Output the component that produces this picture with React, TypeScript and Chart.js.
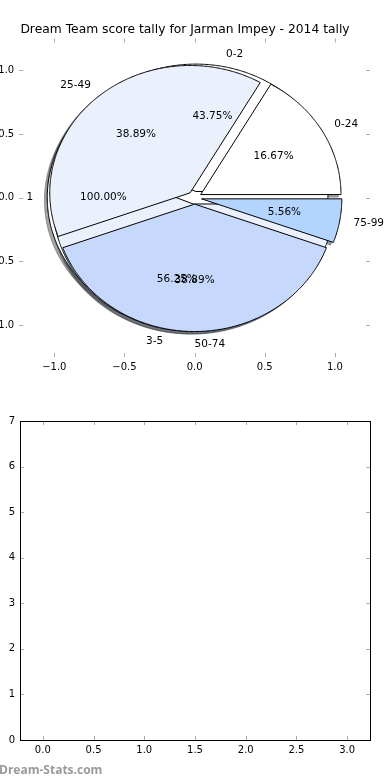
import React, { useEffect, useRef } from "react";
import { Chart, registerables } from "chart.js";

Chart.register(...registerables);

const TITLE = "Dream Team score tally for Jarman Impey - 2014 tally";
const WATERMARK = "Dream-Stats.com";

// three pies drawn on top of each other in the same axes
const pie1Labels = ["1"];
const pie1Values = [1];
const pie2Labels = ["0-2", "3-5"];
const pie2Values = [7, 9];
const pie3Labels = ["0-24", "25-49", "50-74", "75-99"];
const pie3Values = [3, 7, 7, 1];
const pieColors = ["#ffffff", "#eaf1fd", "#c6d9fd", "#b3d4fe"];

const pieTicks = [-1.0, -0.5, 0.0, 0.5, 1.0];
const barXTicks = [0.0, 0.5, 1.0, 1.5, 2.0, 2.5, 3.0];
const barYTicks = [0, 1, 2, 3, 4, 5, 6, 7];

const EXPLODE = 0.05;
const FONT = "'DejaVu Sans', sans-serif";

const fmt1 = (v: number) => (v < 0 ? "\u2212" : "") + Math.abs(v).toFixed(1);
const fmt0 = (v: number) => String(Math.round(v));

function hexToRgb(h: string) {
  const n = parseInt(h.slice(1), 16);
  return [(n >> 16) & 255, (n >> 8) & 255, n & 255];
}

const piePlugin = {
  id: "overlapPies",
  afterDatasetsDraw(chart: any) {
    const ctx = chart.ctx as CanvasRenderingContext2D;
    const xs = chart.scales.x;
    const ys = chart.scales.y;
    const px = (x: number) => xs.getPixelForValue(x);
    const py = (y: number) => ys.getPixelForValue(y);
    const pies = [
      { labels: pie1Labels, values: pie1Values },
      { labels: pie2Labels, values: pie2Values },
      { labels: pie3Labels, values: pie3Values },
    ];
    const wedges: any[] = [];
    const texts: any[] = [];
    pies.forEach((p) => {
      const total = p.values.reduce((a, b) => a + b, 0);
      let t1 = 0;
      p.values.forEach((v, i) => {
        const frac = v / total;
        const t2 = t1 + frac * 360;
        const mid = ((t1 + t2) / 2) * Math.PI / 180;
        const cx = EXPLODE * Math.cos(mid);
        const cy = EXPLODE * Math.sin(mid);
        wedges.push({ cx, cy, t1, t2, color: pieColors[i % pieColors.length] });
        const xt = cx + 1.1 * Math.cos(mid);
        const yt = cy + 1.1 * Math.sin(mid);
        texts.push({ x: xt, y: yt, text: p.labels[i], align: xt > -1e-9 ? "left" : "right" });
        texts.push({
          x: cx + 0.6 * Math.cos(mid),
          y: cy + 0.6 * Math.sin(mid),
          text: (frac * 100).toFixed(2) + "%",
          align: "center",
        });
        t1 = t2;
      });
    });
    const path = (w: any, ox: number, oy: number) => {
      ctx.beginPath();
      const span = w.t2 - w.t1;
      const full = span >= 359.999;
      if (!full) ctx.moveTo(px(w.cx + ox), py(w.cy + oy));
      const n = Math.max(2, Math.ceil(span / 0.5));
      for (let k = 0; k <= n; k++) {
        const a = (w.t1 + (span * k) / n) * Math.PI / 180;
        const X = px(w.cx + ox + Math.cos(a));
        const Y = py(w.cy + oy + Math.sin(a));
        if (k === 0 && full) ctx.moveTo(X, Y);
        else ctx.lineTo(X, Y);
      }
      ctx.closePath();
    };
    ctx.save();
    ctx.lineJoin = "miter";
    // shadows
    wedges.forEach((w) => {
      const [r, g, b] = hexToRgb(w.color);
      const c = `rgba(${Math.round(r * 0.3)},${Math.round(g * 0.3)},${Math.round(b * 0.3)},0.5)`;
      path(w, -0.02, -0.02);
      ctx.fillStyle = c;
      ctx.fill();
      ctx.strokeStyle = c;
      ctx.lineWidth = 1;
      ctx.stroke();
    });
    // wedges
    wedges.forEach((w) => {
      path(w, 0, 0);
      ctx.fillStyle = w.color;
      ctx.fill();
      ctx.strokeStyle = "#000";
      ctx.lineWidth = 1;
      ctx.stroke();
    });
    // texts
    ctx.fillStyle = "#000";
    ctx.font = `10.5px ${FONT}`;
    ctx.textBaseline = "middle";
    texts.forEach((t) => {
      ctx.textAlign = t.align;
      ctx.fillText(t.text, px(t.x), py(t.y));
    });
    ctx.restore();
  },
};

const makeTickPlugin = (frame: boolean) => ({
  id: "innerTicks",
  afterDraw(chart: any) {
    const ctx = chart.ctx as CanvasRenderingContext2D;
    const a = chart.chartArea;
    const xs = chart.scales.x;
    const ys = chart.scales.y;
    const L = 4;
    ctx.save();
    ctx.strokeStyle = "#aaaaaa";
    ctx.lineWidth = 1;
    ctx.beginPath();
    xs.ticks.forEach((t: any) => {
      const x = Math.round(xs.getPixelForValue(t.value)) + 0.5;
      ctx.moveTo(x, a.top);
      ctx.lineTo(x, a.top + L);
      ctx.moveTo(x, a.bottom);
      ctx.lineTo(x, a.bottom - L);
    });
    ys.ticks.forEach((t: any) => {
      const y = Math.round(ys.getPixelForValue(t.value)) + 0.5;
      ctx.moveTo(a.left, y);
      ctx.lineTo(a.left + L, y);
      ctx.moveTo(a.right, y);
      ctx.lineTo(a.right - L, y);
    });
    ctx.stroke();
    if (frame) {
      ctx.strokeStyle = "#000";
      ctx.lineWidth = 1;
      ctx.strokeRect(
        Math.round(a.left) + 0.5,
        Math.round(a.top) + 0.5,
        Math.round(a.right - a.left),
        Math.round(a.bottom - a.top)
      );
    }
    ctx.restore();
  },
});

function axis(min: number, max: number, ticks: number[], fmt: (v: number) => string, isX: boolean, size: number) {
  return {
    type: "linear",
    min,
    max,
    afterBuildTicks: (s: any) => {
      s.ticks = ticks.map((v) => ({ value: v }));
    },
    afterFit: (s: any) => {
      if (isX) s.height = size;
      else s.width = size;
    },
    grid: { display: false, drawTicks: false },
    border: { display: false },
    ticks: {
      callback: (v: any) => fmt(Number(v)),
      font: { family: FONT, size: 10 },
      color: "#000",
      padding: isX ? 4 : 5,
      maxRotation: 0,
      autoSkip: false,
      includeBounds: false,
    },
  };
}

export default function App() {
  const topRef = useRef<HTMLCanvasElement>(null);
  const botRef = useRef<HTMLCanvasElement>(null);

  useEffect(() => {
    const top = new Chart(topRef.current as HTMLCanvasElement, {
      type: "scatter",
      data: { datasets: [{ data: [] }] },
      options: {
        responsive: false,
        animation: false,
        events: [],
        layout: { padding: { left: 0, right: 20, top: 0, bottom: 0 } },
        plugins: {
          legend: { display: false },
          tooltip: { enabled: false },
          title: {
            display: true,
            text: TITLE,
            color: "#000",
            font: { family: FONT, size: 12.3, weight: "normal", lineHeight: 1.2 },
            padding: { top: 22.4, bottom: 1.34 },
          },
        },
        scales: {
          x: axis(-1.25, 1.25, pieTicks, fmt1, true, 23),
          y: axis(-1.25, 1.25, pieTicks, fmt1, false, 19.2),
        },
      } as any,
      plugins: [piePlugin, makeTickPlugin(false)],
    });
    const bot = new Chart(botRef.current as HTMLCanvasElement, {
      type: "scatter",
      data: { datasets: [{ data: [] }] },
      options: {
        responsive: false,
        animation: false,
        events: [],
        layout: { padding: { left: 0, right: 20, top: 41, bottom: 15 } },
        plugins: { legend: { display: false }, tooltip: { enabled: false } },
        scales: {
          x: axis(-0.225, 3.225, barXTicks, fmt1, true, 25),
          y: axis(0, 7, barYTicks, fmt0, false, 20),
        },
      } as any,
      plugins: [makeTickPlugin(true)],
    });
    return () => {
      top.destroy();
      bot.destroy();
    };
  }, []);

  return (
    <div style={{ position: "absolute", left: 0, top: 0, width: 390, height: 780, background: "#fff", overflow: "hidden" }}>
      <canvas ref={topRef} width={390} height={380} style={{ position: "absolute", left: 0, top: 0, width: 390, height: 380 }} />
      <canvas ref={botRef} width={390} height={400} style={{ position: "absolute", left: 0, top: 380, width: 390, height: 400 }} />
      <div
        style={{
          position: "absolute",
          left: -1,
          top: 761,
          fontFamily: "'Open Sans', sans-serif",
          fontWeight: 700,
          fontSize: 12,
          color: "#9a9a9a",
          whiteSpace: "nowrap",
        }}
      >
        {WATERMARK}
      </div>
    </div>
  );
}
